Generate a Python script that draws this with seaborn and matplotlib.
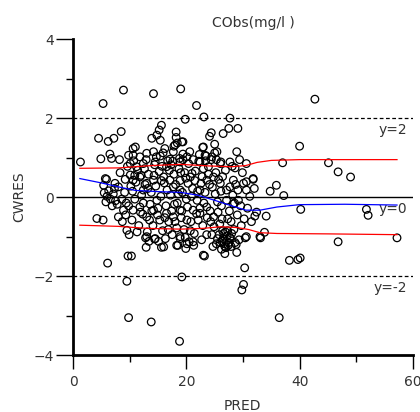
import numpy as np
import pandas as pd
import matplotlib
matplotlib.use("Agg")
import matplotlib.pyplot as plt
import seaborn as sns

pts = [
    # sparse / outlying points
    (1.3, 0.89), (4.5, 1.49), (5.3, 2.37), (8.9, 2.71), (14.2, 2.62), (19.0, 2.74),
    (21.8, 2.32), (19.8, 1.97), (23.1, 2.03), (27.7, 2.00), (42.7, 2.48),
    (15.6, 1.82), (15.2, 1.70), (14.8, 1.57), (15.4, 1.44), (13.9, 1.49), (8.5, 1.66),
    (6.2, 1.41), (7.2, 1.49), (10.6, 1.23), (11.0, 1.27), (6.5, 1.09), (6.8, 0.98),
    (4.9, 0.97), (29.1, 1.74), (27.5, 1.74), (26.5, 1.61), (24.4, 1.63), (24.1, 1.54),
    (18.2, 1.65), (18.2, 1.51), (18.4, 1.37), (19.4, 1.40), (17.8, 1.29), (25.0, 1.34),
    (22.9, 1.26), (28.9, 1.15), (23.5, 1.04), (25.3, 0.95), (26.1, 0.89), (22.2, 0.91),
    (19.4, 1.09), (18.8, 0.98), (17.1, 0.96), (17.6, 0.91),
    (40.0, 1.29), (37.0, 0.87), (45.1, 0.87), (46.8, 0.64), (49.0, 0.51), (34.8, 0.15),
    (35.9, 0.30), (37.2, 0.04), (40.2, -0.31), (34.1, -0.48), (51.8, -0.31),
    (52.1, -0.46), (33.8, -0.89), (46.8, -1.13), (57.2, -1.03), (38.2, -1.60),
    (39.7, -1.58), (40.1, -1.54), (36.4, -3.05),
    (6.1, -1.67), (9.7, -1.49), (10.3, -1.49), (9.5, -2.13), (12.9, -1.27), (15.6, -1.27),
    (14.4, -1.06), (12.8, -1.03), (18.5, -1.22), (19.9, -1.30), (20.5, -1.13),
    (18.9, -1.05), (19.2, -2.02), (23.2, -1.49), (26.8, -1.43), (28.8, -1.20),
    (28.9, -1.40), (30.3, -1.79), (30.1, -2.21), (29.8, -2.35), (30.4, -1.03),
    (33.1, -1.03), (9.8, -3.05), (13.8, -3.16), (18.8, -3.65),
    (4.2, -0.54), (5.3, -0.58), (5.7, 0.47), (5.4, 0.30),
    # middle band
    (30.6, 0.85), (31.8, 0.45), (30.6, 0.39), (32.1, -0.48), (33.0, -1.00), (30.6, -1.00),
    (23.0, -1.47), (20.1, -1.18), (18.3, -1.22), (16.0, -1.26), (13.0, -1.00),
    (9.5, -0.84), (14.5, -1.05), (18.9, -1.00), (21.2, -1.13), (24.8, -0.50),
    (23.6, -0.25), (22.4, -0.41), (21.2, -0.33), (20.1, -0.58), (18.9, -0.33),
    (17.7, -0.50), (16.5, -0.41), (15.3, -0.58), (14.2, -0.33), (13.0, -0.50),
    (11.8, -0.25), (10.6, -0.33), (8.0, -0.50),
    (9.8, 1.06), (10.6, 1.06), (11.8, 1.02), (13.0, 1.11), (14.2, 1.15), (15.4, 1.04),
    (16.2, 1.23), (14.5, 0.89), (12.4, 0.85), (11.2, 0.77), (10.1, 0.85), (18.0, 1.32),
    (19.2, 1.40), (17.7, 1.15), (20.1, 1.02), (18.9, 0.89), (16.5, 0.77), (23.0, 1.27),
    (23.3, 1.06), (24.5, 1.02), (25.4, 1.15), (22.4, 0.89), (23.9, 0.77), (26.0, 0.85),
    (27.7, 0.89), (28.6, 0.74),
    (5.9, 0.45), (7.4, 0.35), (8.0, 0.26), (10.1, 0.56), (10.6, 0.43), (11.8, 0.51),
    (13.0, 0.35), (12.4, 0.18), (14.2, 0.43), (16.0, 0.51), (17.1, 0.43), (17.7, 0.26),
    (18.9, 0.18), (20.7, 0.51), (21.0, 0.60), (22.4, 0.18), (23.6, 0.43), (24.8, 0.51),
    (26.0, 0.35), (27.1, 0.18), (27.7, 0.26), (28.3, 0.43), (30.1, 0.35), (31.8, 0.47),
    (30.6, 0.18), (29.2, -0.08), (28.3, -0.17), (27.1, -0.08),
    # dense core
    (8.3, 0.62), (9.1, 0.12), (9.4, -0.15), (8.7, -0.62), (10.2, 0.28), (10.9, -0.05),
    (11.4, 0.68), (11.6, -0.72), (9.9, -0.95), (8.2, 0.95), (12.1, 0.05), (12.3, -0.43),
    (11.1, 0.38), (9.6, 0.78), (10.4, -0.58), (8.9, -0.33), (7.8, -0.18), (7.1, 0.08),
    (6.6, -0.05), (6.0, 0.02), (5.8, -0.12), (6.3, 0.16), (7.5, -0.09), (5.5, 0.11),
    (6.9, -0.22), (7.3, 0.22),
    (12.6, 0.72), (13.3, 0.58), (13.6, -0.18), (13.8, 0.12), (14.1, -0.72), (14.6, 0.28),
    (14.9, -0.45), (15.2, 0.65), (15.5, 0.02), (15.8, -0.85), (16.1, 0.36), (16.4, -0.22),
    (16.7, 0.92), (16.9, -0.62), (17.2, 0.05), (17.5, -0.95), (17.8, 0.58), (13.1, -0.88),
    (12.9, 0.95), (14.4, 0.82), (15.9, 1.12), (16.3, -1.05), (17.4, -0.35), (13.5, -0.58),
    (14.8, -0.08), (15.1, -1.12), (16.6, 0.18), (12.4, -0.15),
    (18.1, 0.32), (18.4, -0.15), (18.7, 0.72), (19.1, -0.52), (19.3, 0.12), (19.6, -0.82),
    (19.9, 0.48), (20.2, -0.25), (20.4, 0.85), (20.8, -0.62), (21.1, 0.22), (21.4, -0.92),
    (21.6, 0.66), (21.9, -0.08), (22.1, -0.58), (22.6, 0.35), (22.9, -0.72), (23.3, 0.12),
    (23.6, -0.95), (23.9, 0.58), (18.3, -0.78), (19.4, 0.95), (20.6, 1.15), (21.3, -1.22),
    (22.3, 1.08), (23.1, -0.15), (19.8, -1.02), (20.9, 0.02), (22.7, -1.08), (18.9, 0.42),
    (24.2, -0.35), (24.6, 0.25), (24.9, -0.75), (25.2, 0.62), (25.5, -0.12), (25.8, -0.95),
    (26.1, 0.15), (26.3, -0.55), (26.5, -1.05), (26.7, -1.18), (26.9, -0.88), (27.1, -1.12),
    (27.2, -0.98), (27.4, -1.22), (27.6, -0.35), (27.8, -1.05), (27.9, -0.62), (28.2, 0.05),
    (28.4, -0.82), (28.7, 0.32), (29.0, -0.45), (29.3, -1.08), (29.6, -0.22), (29.9, 0.62),
    (26.0, -1.15), (26.6, -0.92), (27.0, -1.28), (27.3, -0.85), (25.6, -0.38), (24.4, 0.95),
    (25.0, 1.12), (26.4, 0.52), (28.1, 0.78), (29.4, 0.95), (30.2, -0.55), (30.8, -0.28),
    (31.2, 0.02), (31.5, -0.62), (32.0, 0.22), (32.4, -0.38), (26.2, -1.32), (26.8, -1.25),
    (27.5, -1.15), (25.3, -1.18), (24.7, -1.25),
    (9.2, 0.45), (10.7, 0.92), (11.9, -0.38), (12.7, 0.32), (13.4, -1.12), (14.3, 0.55),
    (15.0, -0.28), (15.7, 0.78), (16.2, -0.52), (17.0, 0.68), (17.9, -0.18), (18.6, 0.08),
    (19.2, -0.35), (19.7, 0.62), (20.3, 0.35), (20.7, -0.85), (21.5, 0.42), (22.0, 0.15),
    (22.4, -0.28), (23.0, 0.72), (23.7, -0.52), (24.1, 0.32), (24.5, -0.95), (25.1, 0.08),
    (25.7, 0.45), (26.2, -0.22), (26.9, 0.68), (27.3, -0.55), (28.0, -0.92), (28.5, -0.15),
    (29.1, 0.18), (29.7, -0.72), (8.6, -0.05), (9.8, -0.22), (10.5, 0.15), (11.3, -0.88),
    (12.0, 0.55), (13.9, -0.35), (14.7, 1.02), (16.8, -0.82), (18.0, -0.62), (20.0, -0.05),
    (21.8, -0.42), (22.8, 0.52), (24.3, -0.62), (25.9, -0.68), (26.4, -0.85), (27.7, -1.02),
    (28.6, -1.15), (26.3, -1.12), (27.9, -1.25), (25.5, -1.05), (13.2, 0.22), (15.6, 0.42),
    (17.3, 0.82), (19.0, 0.62), (21.2, 0.95), (23.4, 0.92), (10.9, 0.55), (9.3, -0.45),
]
pred = [p[0] for p in pts]
cwres = [p[1] for p in pts]

# smoothed percentile / median curves
upper_x = [1.2, 8, 14, 19, 24, 28, 30.5, 32.5, 35, 40, 48, 57.2]
upper_y = [0.73, 0.74, 0.80, 0.83, 0.79, 0.77, 0.80, 0.88, 0.93, 0.95, 0.95, 0.95]
mid_x = [1.2, 5, 8, 11, 15, 19, 22, 25, 28, 30.5, 33, 36, 40, 48, 57.2]
mid_y = [0.47, 0.36, 0.26, 0.17, 0.14, 0.12, 0.05, -0.08, -0.22, -0.33, -0.33, -0.25,
         -0.19, -0.18, -0.20]
lower_x = [1.2, 8, 13, 19, 23, 26, 29, 31, 33, 36, 45, 57.2]
lower_y = [-0.71, -0.74, -0.79, -0.81, -0.79, -0.75, -0.77, -0.82, -0.90, -0.92, -0.93, -0.95]

ref_levels = [2, 0, -2]
ref_labels = ["y=2", "y=0", "y=-2"]

txt = "#333333"
plt.rcParams["font.family"] = "DejaVu Sans"

fig = plt.figure(figsize=(4.2, 4.12), dpi=100)
ax = fig.add_axes([0.174, 0.138, 0.809, 0.767])

ax.axhline(0, color="black", lw=1.0, zorder=1)
for lev in (2, -2):
    ax.axhline(lev, color="black", lw=0.9, ls=(0, (3, 2)), zorder=1)

sns.scatterplot(x=pred, y=cwres, marker="o", s=30, facecolor="none",
                edgecolor="black", linewidth=0.9, ax=ax, zorder=3)

sns.lineplot(x=upper_x, y=upper_y, color="red", lw=0.9, ax=ax, zorder=4)
sns.lineplot(x=lower_x, y=lower_y, color="red", lw=0.9, ax=ax, zorder=4)
sns.lineplot(x=mid_x, y=mid_y, color="blue", lw=0.9, ax=ax, zorder=4)

for lev, lab in zip(ref_levels, ref_labels):
    ax.text(59.0, lev - 0.29, lab, ha="right", va="center", fontsize=10, color=txt)

ax.set_xlim(0, 60)
ax.set_ylim(-4, 4)
ax.set_xticks([0, 20, 40, 60])
ax.set_xticks([10, 30, 50], minor=True)
ax.set_yticks([-4, -2, 0, 2, 4])
ax.set_yticks([-3, -1, 1, 3], minor=True)
ax.tick_params(axis="x", which="major", length=10, width=1, labelsize=10,
               labelcolor=txt, pad=4)
ax.tick_params(axis="x", which="minor", length=5, width=1)
ax.tick_params(axis="y", which="major", length=12, width=1, labelsize=10,
               labelcolor=txt, pad=2)
ax.tick_params(axis="y", which="minor", length=5, width=1)

for side in ("top", "right"):
    ax.spines[side].set_visible(False)
for side in ("left", "bottom"):
    ax.spines[side].set_linewidth(2)
ax.set_xlabel("")
ax.set_ylabel("")

fig.text(253 / 420, 1 - 23 / 412, "CObs(mg/l )", ha="center", va="center",
         fontsize=10, color=txt)
fig.text(19 / 420, 1 - 197 / 412, "CWRES", rotation=90, ha="center", va="center",
         fontsize=10, color=txt)
fig.text(242 / 420, 1 - 399 / 412, "PRED", ha="center", va="top",
         fontsize=10, color=txt)

fig.savefig("out.png", dpi=100)
